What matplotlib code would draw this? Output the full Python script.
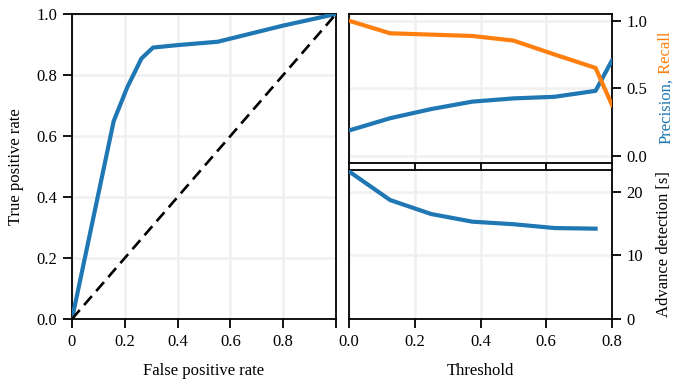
import numpy as np
import matplotlib
matplotlib.use("Agg")
import matplotlib.pyplot as plt

# DATA
fpr = [0.0, 0.158, 0.209, 0.263, 0.307, 0.40, 0.552, 0.80, 1.0]
tpr = [0.0, 0.649, 0.759, 0.854, 0.890, 0.898, 0.909, 0.962, 1.0]

thresholds = [0.0, 0.125, 0.25, 0.375, 0.5, 0.625, 0.75, 0.8]
precision = [0.186, 0.277, 0.345, 0.40, 0.424, 0.436, 0.48, 0.706]
recall = [1.0, 0.907, 0.897, 0.887, 0.853, 0.75, 0.65, 0.375]

adv_thresholds = [0.0, 0.125, 0.25, 0.375, 0.5, 0.625, 0.75]
advance = [23.2, 18.7, 16.5, 15.3, 14.9, 14.3, 14.2]

roc_ticks = [0, 0.2, 0.4, 0.6, 0.8, 1.0]
roc_ticklabels = ["0", "0.2", "0.4", "0.6", "0.8", ""]

BLUE = "#1f77b4"
ORANGE = "#ff7f0e"

plt.rcParams["font.family"] = ["Liberation Serif", "DejaVu Serif"]
plt.rcParams["font.size"] = 12
plt.rcParams["axes.linewidth"] = 1.3
plt.rcParams["xtick.major.width"] = 1.3
plt.rcParams["ytick.major.width"] = 1.3
plt.rcParams["xtick.major.size"] = 6.5
plt.rcParams["ytick.major.size"] = 6.5
plt.rcParams["xtick.major.pad"] = 4.5
plt.rcParams["ytick.major.pad"] = 4

fig = plt.figure(figsize=(6.73, 3.84), dpi=100)
W, H = 673, 384

def box(x0, y0, x1, y1):
    return [x0 / W, 1 - y1 / H, (x1 - x0) / W, (y1 - y0) / H]

ax_roc = fig.add_axes(box(72, 14, 336, 319))
ax_pr = fig.add_axes(box(349, 14, 612, 163))
ax_adv = fig.add_axes(box(349, 169.5, 612, 319))

grid_kw = dict(color="#f0f0f0", linewidth=1.8)
LW = 3.0

# ROC
ax_roc.grid(True, **grid_kw)
ax_roc.set_axisbelow(True)
ax_roc.plot(fpr, tpr, color=BLUE, linewidth=LW, zorder=3)
ax_roc.plot([0, 1], [0, 1], color="k", linestyle=(0, (4.5, 2.5)),
            linewidth=1.9, zorder=3)
ax_roc.set_xlim(0, 1)
ax_roc.set_ylim(0, 1)
ax_roc.set_xticks(roc_ticks)
ax_roc.set_xticklabels(roc_ticklabels)
ax_roc.set_yticks([0, 0.2, 0.4, 0.6, 0.8, 1.0])
ax_roc.set_xlabel("False positive rate", labelpad=9)
ax_roc.set_ylabel("True positive rate", labelpad=9)

# Precision / Recall
ax_pr.grid(True, **grid_kw)
ax_pr.set_axisbelow(True)
ax_pr.plot(thresholds, precision, color=BLUE, linewidth=LW, zorder=3)
ax_pr.plot(thresholds, recall, color=ORANGE, linewidth=LW, zorder=3)
ax_pr.set_xlim(0, 0.8)
ax_pr.set_ylim(-0.055, 1.05)
ax_pr.set_xticks([0, 0.2, 0.4, 0.6, 0.8])
ax_pr.tick_params(axis="x", labelbottom=False, length=5)
ax_pr.yaxis.tick_right()
ax_pr.set_yticks([0, 0.5, 1.0])
ax_pr.set_yticklabels(["0.0", "0.5", "1.0"])

t1 = fig.text(666 / W, 1 - 144 / H, "Precision,", color=BLUE, rotation=90,
              ha="center", va="bottom")
ax_pr.annotate(" Recall", xy=(0.5, 1), xycoords=t1, color=ORANGE, rotation=90,
               ha="center", va="bottom", annotation_clip=False)

# Advance detection
ax_adv.grid(True, **grid_kw)
ax_adv.set_axisbelow(True)
ax_adv.plot(adv_thresholds, advance, color=BLUE, linewidth=LW, zorder=3)
ax_adv.set_xlim(0, 0.8)
ax_adv.set_ylim(0, 23.5)
ax_adv.set_xticks([0, 0.2, 0.4, 0.6, 0.8])
ax_adv.set_xticklabels(["0.0", "0.2", "0.4", "0.6", "0.8"])
ax_adv.yaxis.tick_right()
ax_adv.yaxis.set_label_position("right")
ax_adv.set_yticks([0, 10, 20])
ax_adv.set_ylabel("Advance detection [s]", labelpad=9)
ax_adv.set_xlabel("Threshold", labelpad=9)

fig.savefig("out.png", dpi=100)
